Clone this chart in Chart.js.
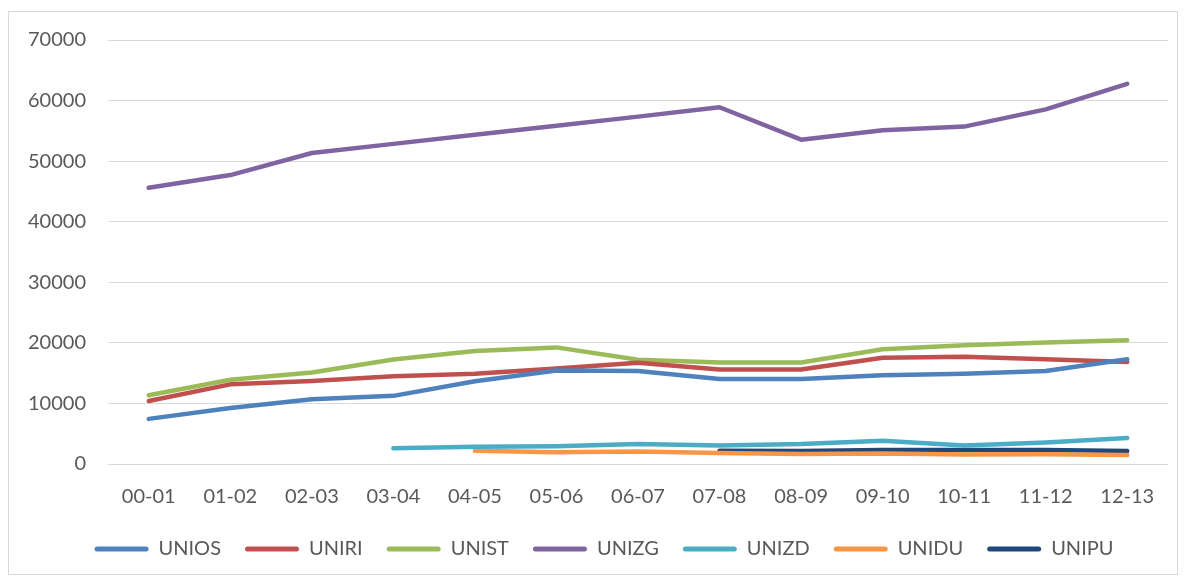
<!DOCTYPE html>
<html>
<head>
<meta charset="utf-8">
<script src="https://cdn.jsdelivr.net/npm/chart.js@4.4.1/dist/chart.umd.min.js"></script>
<style>
  html, body { margin: 0; padding: 0; background: #ffffff; }
  #wrap { position: absolute; left: 0; top: 0; width: 1187px; height: 581px; }
</style>
</head>
<body>
<div id="wrap"><canvas id="c" width="1187" height="581"></canvas></div>
<script>
const categories = ['00-01','01-02','02-03','03-04','04-05','05-06','06-07','07-08','08-09','09-10','10-11','11-12','12-13'];
const UNIOS = [7450, 9250, 10700, 11250, 13650, 15450, 15350, 14050, 14050, 14650, 14900, 15350, 17300];
const UNIRI = [10400, 13150, 13700, 14500, 14900, 15750, 16700, 15600, 15600, 17550, 17700, 17300, 16850];
const UNIST = [11350, 13900, 15100, 17250, 18650, 19250, 17200, 16750, 16750, 18950, 19600, 20050, 20450];
const UNIZG = [45600, 47700, 51350, 52850, 54350, 55850, 57350, 58900, 53550, 55100, 55700, 58550, 62750];
const UNIZD = [null, null, null, 2600, 2850, 2950, 3300, 3050, 3300, 3850, 3050, 3550, 4300];
const UNIDU = [null, null, null, null, 2200, 1950, 2050, 1800, 1650, 1750, 1550, 1600, 1500];
const UNIPU = [null, null, null, null, null, null, null, 2200, 2150, 2300, 2300, 2300, 2150];
const yTicks = [0, 10000, 20000, 30000, 40000, 50000, 60000, 70000];

const seriesNames = ['UNIOS','UNIRI','UNIST','UNIZG','UNIZD','UNIDU','UNIPU'];
const seriesData = [UNIOS, UNIRI, UNIST, UNIZG, UNIZD, UNIDU, UNIPU];
const seriesColors = ['#4F81BD','#C0504D','#9BBB59','#8064A2','#4BACC6','#F79646','#1F497D'];

const textColor = '#595959';
const fontFamily = 'Lato, "Liberation Sans", sans-serif';

const frame = {
  id: 'frame',
  beforeDraw(chart) {
    const ctx = chart.ctx;
    ctx.save();
    ctx.fillStyle = '#ffffff';
    ctx.fillRect(0, 0, chart.width, chart.height);
    ctx.strokeStyle = '#D9D9D9';
    ctx.lineWidth = 1;
    ctx.strokeRect(8.5, 11.5, 1169, 563);
    ctx.restore();
  }
};
const legendShift = {
  id: 'legendShift',
  afterLayout(chart) {
    const lg = chart.legend;
    if (lg) { lg.top -= 12; lg.bottom -= 12; lg.left += 20; lg.right += 20; }
  }
};

new Chart(document.getElementById('c'), {
  type: 'line',
  data: {
    labels: categories,
    datasets: seriesNames.map((n, i) => ({
      label: n,
      data: seriesData[i],
      borderColor: seriesColors[i],
      backgroundColor: seriesColors[i],
      borderWidth: 4.5,
      pointRadius: 0,
      pointHoverRadius: 0,
      tension: 0,
      spanGaps: false,
      borderCapStyle: 'round',
      borderJoinStyle: 'round'
    }))
  },
  options: {
    responsive: false,
    animation: false,
    layout: { padding: { left: 0, right: 19, top: 40, bottom: 0 } },
    plugins: {
      tooltip: { enabled: false },
      legend: {
        position: 'bottom',
        labels: {
          color: textColor,
          font: { family: fontFamily, size: 20 },
          boxWidth: 54,
          boxHeight: 5,
          padding: 24,
          generateLabels(chart) {
            const items = Chart.defaults.plugins.legend.labels.generateLabels(chart);
            items.forEach(it => {
              it.lineWidth = 0;
              it.fillStyle = it.strokeStyle;
              it.borderRadius = 2.5;
            });
            return items;
          }
        }
      }
    },
    scales: {
      x: {
        offset: true,
        grid: { display: false, drawTicks: false },
        border: { display: false },
        ticks: { color: textColor, font: { family: fontFamily, size: 20 }, padding: 21, maxRotation: 0, autoSkip: false },
        afterFit(scale) { scale.height = 63; }
      },
      y: {
        min: 0,
        max: 70000,
        afterBuildTicks(scale) { scale.ticks = yTicks.map(v => ({ value: v })); },
        grid: { color: '#D9D9D9', lineWidth: 1, drawTicks: false },
        border: { display: false },
        ticks: { color: textColor, font: { family: fontFamily, size: 20 }, padding: 22, callback: v => String(v) },
        afterFit(scale) { scale.width = 108; }
      }
    }
  },
  plugins: [frame, legendShift]
});
</script>
</body>
</html>
